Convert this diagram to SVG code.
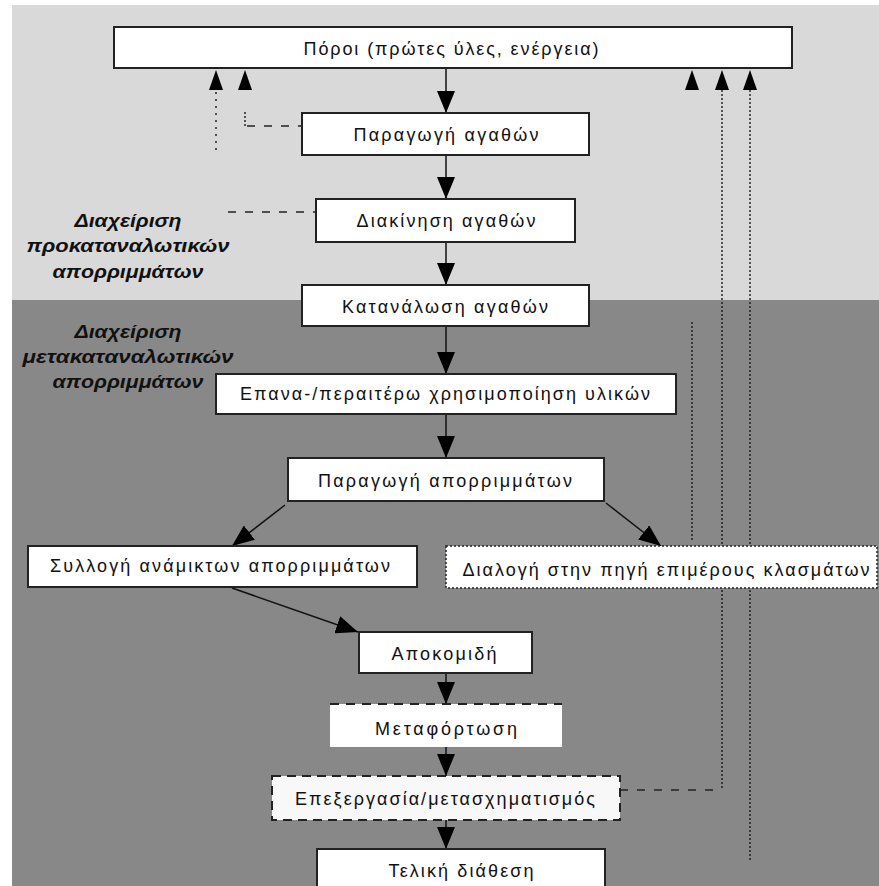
<svg xmlns="http://www.w3.org/2000/svg" xmlns:xlink="http://www.w3.org/1999/xlink" width="879" height="886" viewBox="0 0 879 886">
<style>
.box{fill:#ffffff;stroke:#222;stroke-width:2}
.t{font-family:"Liberation Sans",Arial,sans-serif;font-size:18px;fill:#111;text-anchor:middle}
.lbl{font-family:"Liberation Sans",Arial,sans-serif;font-size:19px;font-weight:bold;font-style:italic;fill:#111;text-anchor:middle}
.ln{stroke:#111;stroke-width:1.5;fill:none}
.dot{stroke:#1a1a1a;stroke-width:1.4;fill:none;stroke-dasharray:2,2}
.dot2{stroke:#222;stroke-width:1.5;fill:none;stroke-dasharray:2,5}
.dash{stroke:#222;stroke-width:1.5;fill:none;stroke-dasharray:8,9}
</style>
<defs>
<marker id="arr" markerUnits="userSpaceOnUse" viewBox="0 0 22 18" refX="22" refY="9" markerWidth="22" markerHeight="18" orient="auto">
<path d="M0,0 L22,9 L0,18 z" fill="#000"/>
</marker>
<path id="up" d="M0,0 L7,20 L-7,20 z" fill="#000"/>
</defs>
<rect x="12" y="5" width="867" height="295" fill="#d9d9d9"/>
<rect x="12" y="300" width="867" height="586" fill="#888888"/>

<g id="connectors">
<line class="ln" x1="446" y1="68" x2="446" y2="113" marker-end="url(#arr)"/>
<line class="ln" x1="446" y1="155" x2="446" y2="199" marker-end="url(#arr)"/>
<line class="ln" x1="446" y1="242" x2="446" y2="285" marker-end="url(#arr)"/>
<line class="ln" x1="446" y1="326" x2="446" y2="374" marker-end="url(#arr)"/>
<line class="ln" x1="446" y1="414" x2="446" y2="458" marker-end="url(#arr)"/>
<line class="ln" x1="285" y1="505" x2="232" y2="546" marker-end="url(#arr)"/>
<line class="ln" x1="606" y1="503" x2="661" y2="546" marker-end="url(#arr)"/>
<line class="ln" x1="232" y1="588" x2="358" y2="632" marker-end="url(#arr)"/>
<line class="ln" x1="446" y1="673" x2="446" y2="704" marker-end="url(#arr)"/>
<line class="ln" x1="446" y1="747" x2="446" y2="776" marker-end="url(#arr)"/>
<line class="ln" x1="446" y1="820" x2="446" y2="849" marker-end="url(#arr)"/>
<use xlink:href="#up" x="216" y="70"/>
<use xlink:href="#up" x="245" y="70"/>
<use xlink:href="#up" x="692" y="70"/>
<use xlink:href="#up" x="722" y="70"/>
<use xlink:href="#up" x="750" y="70"/>
<line class="dot2" x1="216" y1="92" x2="216" y2="155"/>
<line class="dot" x1="245" y1="112" x2="245" y2="126"/>
<line class="dash" x1="247" y1="126" x2="302" y2="126"/>
<line class="dash" x1="228" y1="212" x2="316" y2="212"/>
<line class="dot" x1="722" y1="90" x2="722" y2="790"/>
<line class="dot" x1="750" y1="90" x2="750" y2="860"/>
<line class="dot" x1="692" y1="322" x2="692" y2="540"/>
<line class="dash" x1="620" y1="790" x2="722" y2="790"/>
</g>

<g id="poroi"><rect class="box" x="114" y="27" width="678" height="41"/><text class="t" x="451" y="55" textLength="295" lengthAdjust="spacing">Πόροι (πρώτες ύλες, ενέργεια)</text></g>
<g id="paragogi"><rect class="box" x="302" y="113" width="287" height="42"/><text class="t" x="446" y="141" textLength="185" lengthAdjust="spacing">Παραγωγή αγαθών</text></g>
<g id="diakinisi"><rect class="box" x="316" y="199" width="259" height="43"/><text class="t" x="446" y="227" textLength="179" lengthAdjust="spacing">Διακίνηση αγαθών</text></g>
<g id="katanalosi"><rect class="box" x="302" y="285" width="287" height="41"/><text class="t" x="445" y="313" textLength="206" lengthAdjust="spacing">Κατανάλωση αγαθών</text></g>
<g id="epanachrisi"><rect class="box" x="216" y="374" width="460" height="40"/><text class="t" x="445" y="400" textLength="410" lengthAdjust="spacing">Επανα-/περαιτέρω χρησιμοποίηση υλικών</text></g>
<g id="paragogi-aporr"><rect class="box" x="288" y="458" width="316" height="43"/><text class="t" x="445" y="487" textLength="254" lengthAdjust="spacing">Παραγωγή απορριμμάτων</text></g>
<g id="syllogi"><rect class="box" x="28" y="546" width="389" height="41"/><text class="t" x="220" y="572" textLength="340" lengthAdjust="spacing">Συλλογή ανάμικτων απορριμμάτων</text></g>
<g id="dialogi"><rect x="446" y="546" width="431" height="42" fill="#fff" stroke="#222" stroke-width="1.5" stroke-dasharray="2,2"/><text class="t" x="666" y="576" textLength="407" lengthAdjust="spacing">Διαλογή στην πηγή επιμέρους κλασμάτων</text></g>
<g id="apokomidi"><rect class="box" x="359" y="632" width="173" height="41"/><text class="t" x="444" y="660" textLength="105" lengthAdjust="spacing">Αποκομιδή</text></g>
<g id="metafortosi"><rect x="330" y="704" width="232" height="43" fill="#fff"/><line x1="330" y1="704" x2="562" y2="704" stroke="#222" stroke-width="2" stroke-dasharray="9,7"/><text class="t" x="446" y="735" textLength="142" lengthAdjust="spacing">Μεταφόρτωση</text></g>
<g id="epexergasia"><rect x="272" y="776" width="348" height="44" fill="#f8f8f8" stroke="#222" stroke-width="2" stroke-dasharray="9,6"/><text class="t" x="445" y="805" textLength="300" lengthAdjust="spacing">Επεξεργασία/μετασχηματισμός</text></g>
<g id="teliki"><rect class="box" x="317" y="849" width="288" height="45"/><text class="t" x="461" y="877" textLength="145" lengthAdjust="spacing">Τελική διάθεση</text></g>

<g id="label-pre">
<text class="lbl" x="128" y="227" textLength="107" lengthAdjust="spacingAndGlyphs">Διαχείριση</text>
<text class="lbl" x="128" y="252" textLength="203" lengthAdjust="spacingAndGlyphs">προκαταναλωτικών</text>
<text class="lbl" x="128" y="278" textLength="151" lengthAdjust="spacingAndGlyphs">απορριμμάτων</text>
</g>
<g id="label-post">
<text class="lbl" x="128" y="338" textLength="107" lengthAdjust="spacingAndGlyphs">Διαχείριση</text>
<text class="lbl" x="128" y="363" textLength="211" lengthAdjust="spacingAndGlyphs">μετακαταναλωτικών</text>
<text class="lbl" x="128" y="388" textLength="151" lengthAdjust="spacingAndGlyphs">απορριμμάτων</text>
</g>
</svg>
